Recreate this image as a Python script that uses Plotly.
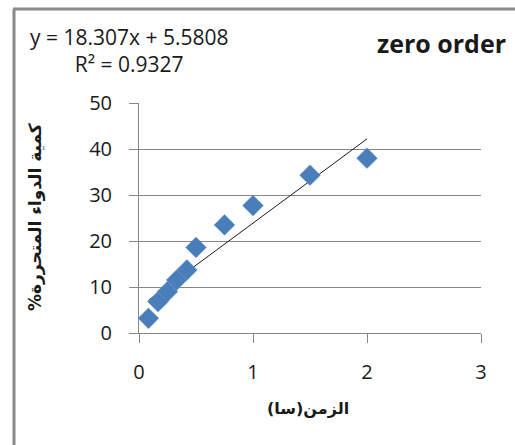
import plotly.graph_objects as go

# release data: time (h) vs cumulative drug released (%)
time_h = [0.083, 0.167, 0.25, 0.33, 0.42, 0.5, 0.75, 1.0, 1.5, 2.0]
released_pct = [3.2, 6.8, 9.0, 11.5, 13.7, 18.6, 23.5, 27.7, 34.3, 38.0]

# linear trend reported on the chart
slope = 18.307
intercept = 5.5808
r_squared = 0.9327

x_ticks = [0, 1, 2, 3]
y_ticks = [0, 10, 20, 30, 40, 50]

W, H = 515, 445
L, R, T, B = 139, 34, 103, 112
PW, PH = W - L - R, H - T - B


def px(xp):
    return (xp - L) / PW


def py(yp):
    return (H - B - yp) / PH


trend_x = [min(time_h), max(time_h)]
trend_y = [slope * v + intercept for v in trend_x]

fig = go.Figure()
fig.add_trace(go.Scatter(
    x=trend_x, y=trend_y, mode="lines",
    line=dict(color="#1a1a1a", width=1), showlegend=False, hoverinfo="skip",
))
fig.add_trace(go.Scatter(
    x=time_h, y=released_pct, mode="markers",
    marker=dict(symbol="diamond", size=16, color="#4a7ebb",
                line=dict(color="#6f97cc", width=0.5)),
    showlegend=False, cliponaxis=False,
))

font_main = "'Open Sans', 'DejaVu Sans', sans-serif"
axis_col = "#868686"

fig.update_layout(
    width=W, height=H,
    margin=dict(l=L, r=R, t=T, b=B, pad=0),
    paper_bgcolor="white", plot_bgcolor="white",
    font=dict(family=font_main, size=20, color="#1a1a1a"),
    xaxis=dict(
        range=[0, 3], tickvals=x_ticks, showgrid=False, zeroline=False,
        showline=True, linecolor=axis_col, linewidth=1,
        ticks="outside", ticklen=9, tickcolor=axis_col,
        ticklabelstandoff=12, tickfont=dict(size=20),
    ),
    yaxis=dict(
        range=[0, 50], tickvals=y_ticks, showgrid=True, gridcolor=axis_col,
        gridwidth=1, zeroline=False,
        showline=True, linecolor=axis_col, linewidth=1,
        ticks="outside", ticklen=9, tickcolor=axis_col,
        ticklabelstandoff=13, tickfont=dict(size=20),
    ),
    shapes=[
        dict(type="line", xref="paper", yref="paper",
             x0=px(14), x1=px(14), y0=py(9), y1=py(460),
             line=dict(color="#8a8a8a", width=3)),
        dict(type="line", xref="paper", yref="paper",
             x0=px(13), x1=px(530), y0=py(9), y1=py(9),
             line=dict(color="#8a8a8a", width=3)),
    ],
    annotations=[
        dict(xref="paper", yref="paper", x=px(129), y=py(50),
             text=f"y = {slope}x + {intercept}<br>R² = {r_squared}",
             showarrow=False, align="center", xanchor="center", yanchor="middle",
             font=dict(size=21, family=font_main, color="#1a1a1a")),
        dict(xref="paper", yref="paper", x=px(441), y=py(43),
             text="<b>zero order</b>", showarrow=False,
             xanchor="center", yanchor="middle",
             font=dict(size=25, family=font_main, color="#1a1a1a")),
        dict(xref="paper", yref="paper", x=px(308), y=py(408),
             text="<b>\u200fالزمن(سا)\u200f</b>", showarrow=False,
             xanchor="center", yanchor="middle",
             font=dict(size=16, family="'DejaVu Sans', sans-serif", color="#1a1a1a")),
        dict(xref="paper", yref="paper", x=px(35), y=py(217),
             text="<b>\u200fكمية الدواء المتحررة%\u200f</b>", showarrow=False,
             textangle=-90, xanchor="center", yanchor="middle",
             font=dict(size=17, family="'DejaVu Sans', sans-serif", color="#1a1a1a")),
    ],
)

fig.write_html("out.html")
